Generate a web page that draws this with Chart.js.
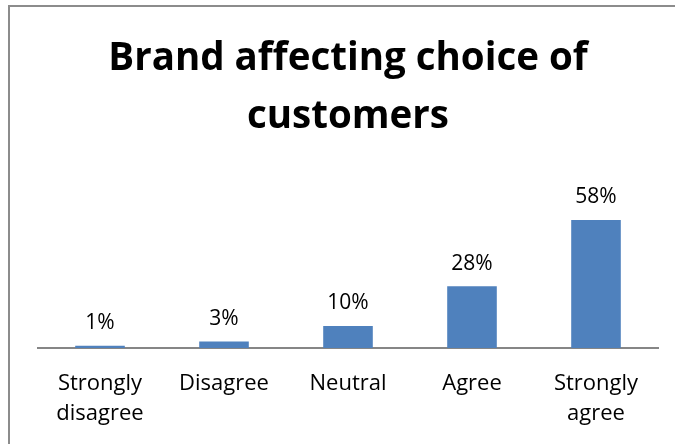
<!DOCTYPE html>
<html>
<head>
<meta charset="utf-8">
<script src="https://cdn.jsdelivr.net/npm/chart.js@4/dist/chart.umd.min.js"></script>
<style>
  html, body { margin: 0; padding: 0; overflow: hidden; background: #fff; }
  #wrap { position: relative; width: 675px; height: 444px; }
  #frame {
    position: absolute; left: 8px; top: 5px; width: 720px; height: 480px;
    border: 2px solid #8c8c8c; box-sizing: border-box;
  }
  canvas { position: absolute; left: 0; top: 0; }
</style>
</head>
<body>
<div id="wrap">
  <div id="frame"></div>
  <canvas id="chart" width="675" height="444"></canvas>
</div>
<script>
// 数据
const categories = [['Strongly', 'disagree'], 'Disagree', 'Neutral', 'Agree', ['Strongly', 'agree']];
const percentages = [1, 3, 10, 28, 58];
const valueLabels = ['1%', '3%', '10%', '28%', '58%'];

const FONT = "'Open Sans', 'Liberation Sans', sans-serif";

// 柱顶数值标签
const valueLabelPlugin = {
    id: 'valueLabels',
    afterDatasetsDraw(chart) {
        const ctx = chart.ctx;
        const meta = chart.getDatasetMeta(0);
        ctx.save();
        ctx.font = '21px ' + FONT;
        ctx.fillStyle = '#000';
        ctx.textAlign = 'center';
        ctx.textBaseline = 'bottom';
        meta.data.forEach((bar, i) => {
            ctx.fillText(valueLabels[i], bar.x, bar.y - 12);
        });
        ctx.restore();
    }
};

const chart = new Chart(document.getElementById('chart'), {
    type: 'bar',
    data: {
        labels: categories,
        datasets: [{
            data: percentages,
            backgroundColor: '#4f81bd',
            borderWidth: 0,
            categoryPercentage: 1,
            barPercentage: 0.4
        }]
    },
    options: {
        responsive: false,
        animation: false,
        layout: { padding: { left: 38, right: 17, top: 0, bottom: 0 } },
        plugins: {
            legend: { display: false },
            tooltip: { enabled: false },
            title: {
                display: true,
                text: ['Brand affecting choice of', 'customers'],
                color: '#000',
                font: { family: FONT, size: 38.5, weight: 'bold', lineHeight: 58 / 38.5 },
                padding: { top: 30.5, bottom: 47 }
            }
        },
        scales: {
            x: {
                grid: { display: false, drawTicks: false },
                border: { display: true, color: '#868686', width: 2 },
                ticks: {
                    color: '#000',
                    font: { family: FONT, size: 22, lineHeight: 30 / 22 },
                    padding: 21,
                    maxRotation: 0,
                    autoSkip: false
                },
                afterFit(scale) { scale.height = 96; }
            },
            y: {
                display: false,
                min: 0,
                max: 70
            }
        }
    },
    plugins: [valueLabelPlugin]
});
</script>
</body>
</html>
